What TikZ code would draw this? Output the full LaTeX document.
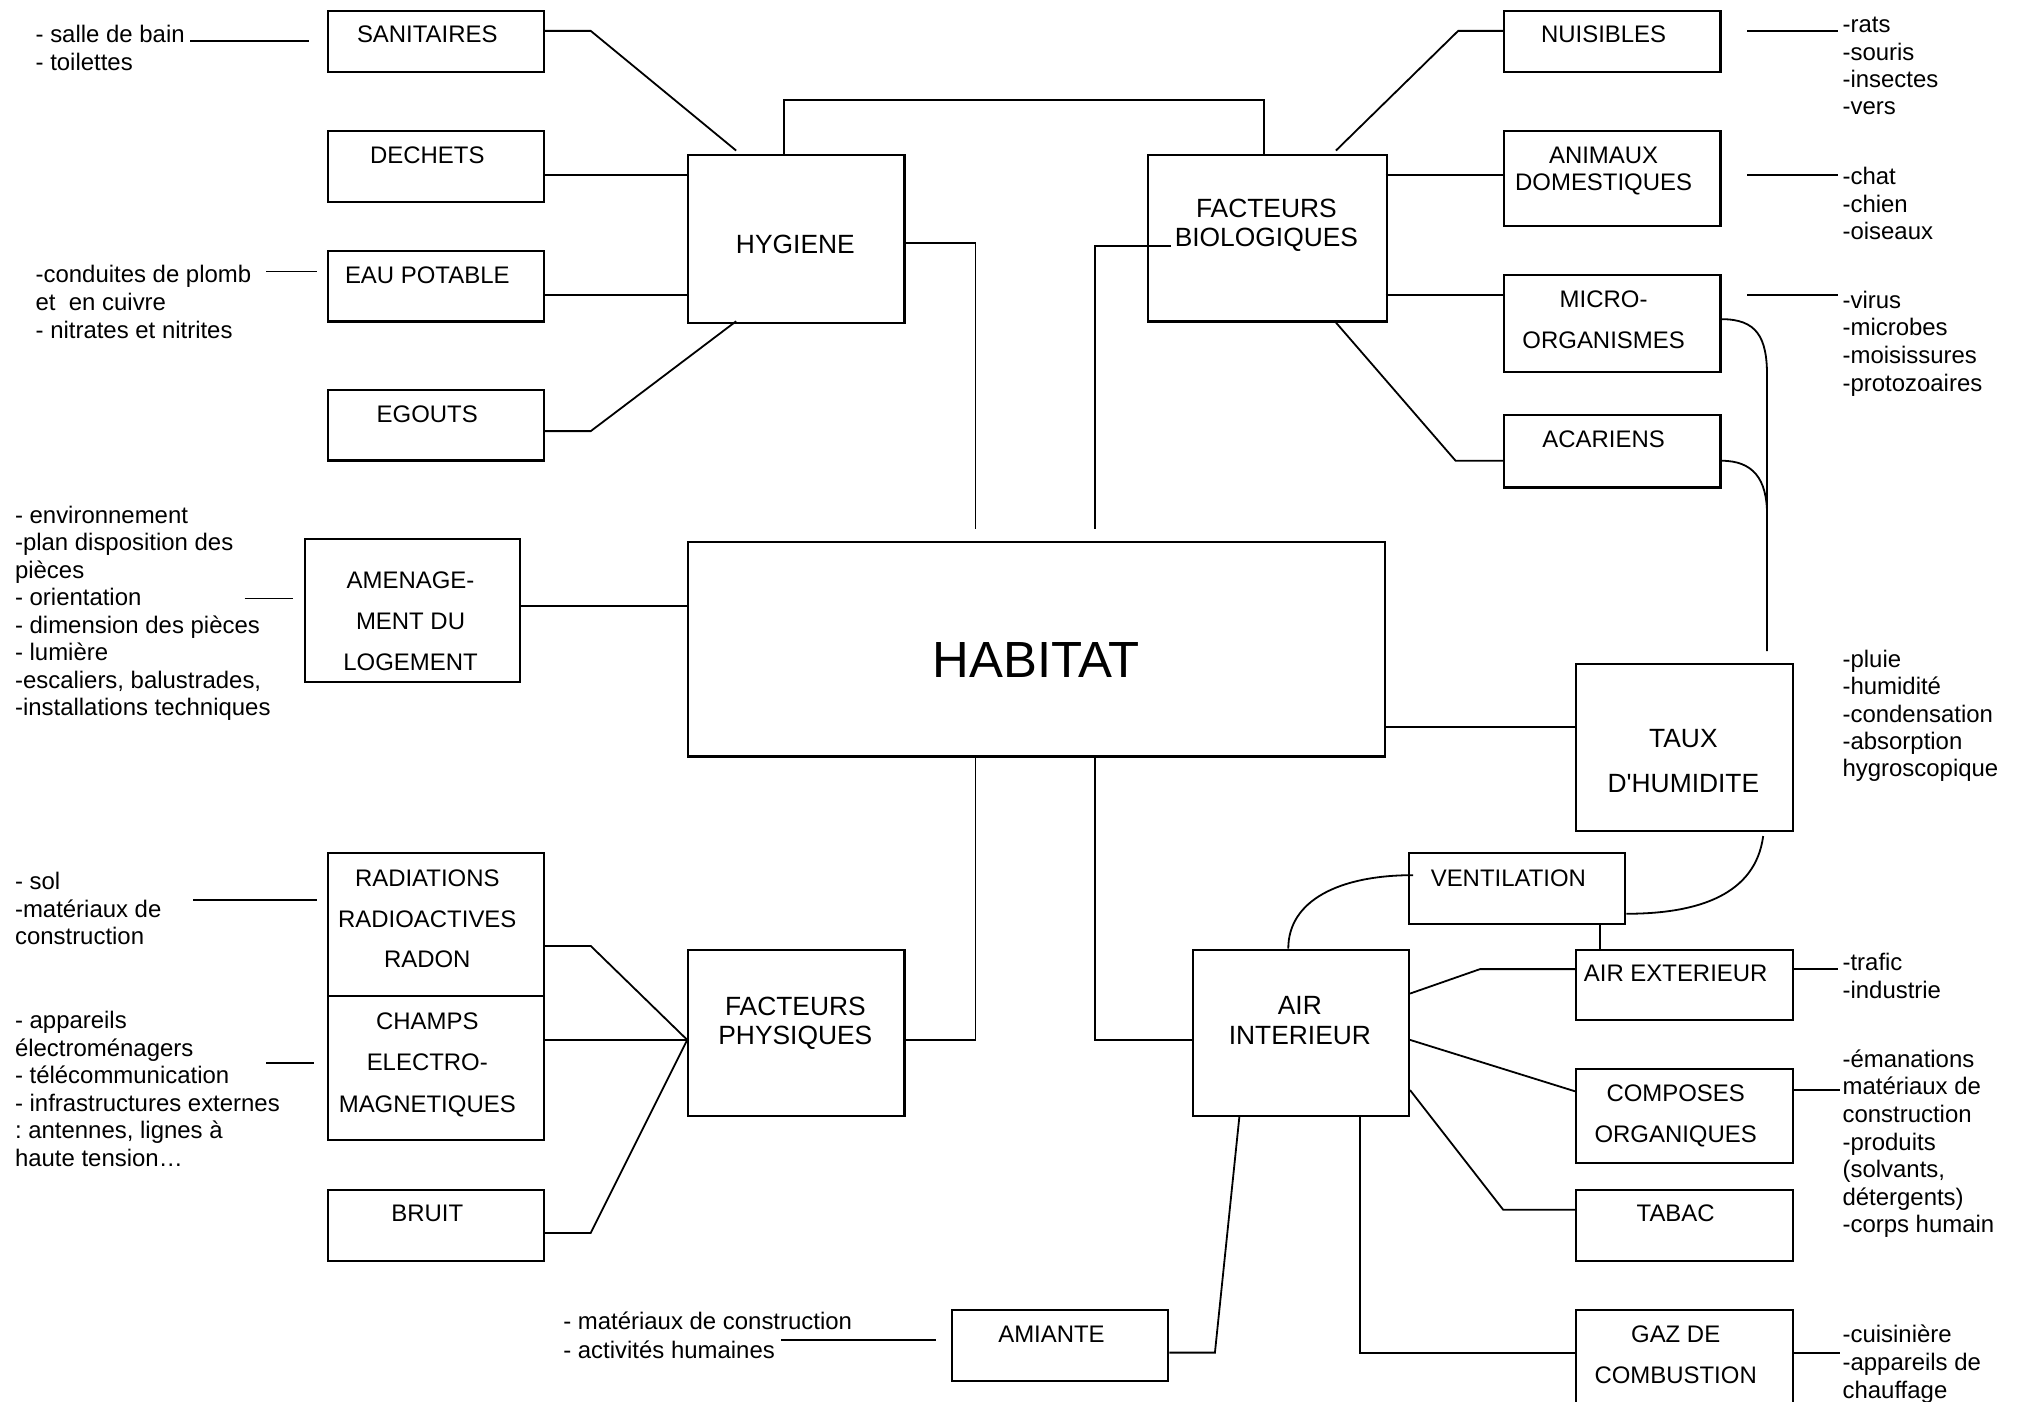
\documentclass[tikz,border=0pt]{standalone}
\usepackage{fontspec}
\setmainfont{Liberation Sans}
\newfontfamily\plainsans{Liberation Sans}
\usetikzlibrary{calc}
\frenchspacing
\newcommand\mybox[5]{\node[box,minimum width={#4-#2},minimum height={#5-#3}] (#1) at (#2,#3) {};}
\newcommand\mylbl[6]{\node[lab,font=\fontsize{#6}{#5}\selectfont] (#1) at (#2,#3-0.358*#6) {#4};}
\newcommand\myann[5]{\node[ann,font=\fontsize{18.6}{#4}\selectfont\frenchspacing] (#1) at (#2,#3-7.3) {\rule{0pt}{14pt}#5};}
\begin{document}
\begin{tikzpicture}[x=1pt,y=-1pt,line width=1.4pt,
  box/.style={draw,line width=1.6pt,inner sep=0pt,anchor=north west},
  lab/.style={inner sep=0pt,anchor=north,align=center},
  ann/.style={inner sep=0pt,anchor=north west,align=left}]
\useasboundingbox (0,0) rectangle (1568,1089);
% boxes
\mybox{san}{254}{8}{422}{55}
\mybox{dech}{254}{101}{422}{156}
\mybox{eau}{254}{194}{422}{249}
\mybox{ego}{254}{302}{422}{357}
\mybox{hyg}{534}{120}{702}{250}
\mybox{fb}{891}{120}{1077}{249}
\mybox{nuis}{1168}{8}{1336}{55}
\mybox{anim}{1168}{101}{1336}{175}
\mybox{micro}{1168}{213}{1336}{288}
\mybox{acar}{1168}{322}{1336}{378}
\mybox{amen}{236}{418}{403}{529}
\mybox{hab}{534}{420}{1075}{587}
\mybox{taux}{1224}{515}{1392}{645}
\mybox{vent}{1094}{662}{1262}{717}
\mybox{airext}{1224}{737}{1392}{792}
\mybox{airint}{926}{737}{1094}{866}
\mybox{comp}{1224}{830}{1392}{903}
\mybox{tabac}{1224}{924}{1392}{979}
\mybox{gaz}{1224}{1017}{1392}{1095}
\mybox{amiante}{739}{1017}{907}{1072}
\mybox{fp}{534}{737}{702}{866}
\mybox{rad}{254}{662}{422}{773}
\mybox{champs}{254}{773}{422}{885}
\mybox{bruit}{254}{924}{422}{979}
% labels
\mylbl{lsan}{332}{26}{SANITAIRES}{21}{18.6}
\mylbl{ldech}{332}{120}{DECHETS}{21}{18.6}
\mylbl{leau}{332}{213}{EAU POTABLE}{21}{18.6}
\mylbl{lego}{332}{321}{EGOUTS}{21}{18.6}
\mylbl{lhyg}{618}{189}{HYGIENE}{23}{20.5}
\mylbl{lfb}{984}{161}{FACTEURS\\BIOLOGIQUES}{23}{20.5}
\mylbl{lnuis}{1246}{26}{NUISIBLES}{21}{18.6}
\mylbl{lanim}{1246}{120}{ANIMAUX\\DOMESTIQUES}{21}{18.6}
\mylbl{lmicro}{1246}{232}{MICRO-\\ORGANISMES}{32}{18.6}
\mylbl{lacar}{1246}{341}{ACARIENS}{21}{18.6}
\mylbl{lamen}{319}{450}{AMENAGE-\\MENT DU\\LOGEMENT}{32}{18.6}
\node[inner sep=0pt,font=\fontsize{39.5}{42}\selectfont,text height=28.3pt,text depth=0pt] (lhab) at (hab.center |- 0,512) {HABITAT};
\mylbl{ltaux}{1308}{573}{TAUX\\{\plainsans D'HUMIDITE}}{35}{20.5}
\mylbl{lvent}{1172}{682}{VENTILATION}{21}{18.6}
\mylbl{lairext}{1302}{756}{AIR EXTERIEUR}{21}{18.6}
\mylbl{lairint}{1010}{781}{AIR\\INTERIEUR}{23}{20.5}
\mylbl{lcomp}{1302}{849}{COMPOSES\\ORGANIQUES}{32}{18.6}
\mylbl{ltabac}{1302}{942}{TABAC}{21}{18.6}
\mylbl{lgaz}{1302}{1036}{GAZ DE\\COMBUSTION}{32}{18.6}
\mylbl{lamiante}{817}{1036}{AMIANTE}{21}{18.6}
\mylbl{lfp}{618}{781}{FACTEURS\\PHYSIQUES}{23}{20.5}
\mylbl{lrad}{332}{682}{RADIATIONS\\RADIOACTIVES\\RADON}{31.5}{18.6}
\mylbl{lchamps}{332}{793}{CHAMPS\\ELECTRO-\\MAGNETIQUES}{32}{18.6}
\mylbl{lbruit}{332}{942}{BRUIT}{21}{18.6}
% annotations
\myann{asan}{27}{26}{21.3}{- salle de bain\\- toilettes}
\myann{aeau}{27}{212}{22}{-conduites de plomb\\et\ \ en cuivre\\- nitrates et nitrites}
\myann{aamen}{11}{399}{21.4}{- environnement\\-plan disposition des\\pièces\\- orientation\\- dimension des pièces\\- lumière\\-escaliers, balustrades,\\-installations techniques}
\myann{arad}{11}{684}{21.4}{- sol\\-matériaux de\\construction}
\myann{achamps}{11}{792}{21.4}{- appareils\\électroménagers\\- télécommunication\\- infrastructures externes\\: antennes, lignes à\\haute tension…}
\myann{aamiante}{437}{1026}{22}{- matériaux de construction\\- activités humaines}
\myann{anuis}{1431}{18}{21.3}{-rats\\-souris\\-insectes\\-vers}
\myann{aanim}{1431}{136}{21.5}{-chat\\-chien\\-oiseaux}
\myann{amicro}{1431}{232}{21.5}{-virus\\-microbes\\-moisissures\\-protozoaires}
\myann{ataux}{1431}{511}{21.3}{-pluie\\-humidité\\-condensation\\-absorption\\hygroscopique}
\myann{aairext}{1431}{747}{21.3}{-trafic\\-industrie}
\myann{acomp}{1431}{822}{21.4}{-émanations\\matériaux de\\construction\\-produits\\(solvants,\\détergents)\\-corps humain}
\myann{agaz}{1431}{1036}{21.5}{-cuisinière\\-appareils de\\chauffage}
% connectors: hygiene
\draw (san.east |- 0,24) -- (459,24) -- ($(hyg.north -| 572,0)+(0,-3)$);
\draw (dech.east |- 0,136) -- (hyg.west |- 0,136);
\draw (eau.east |- 0,229) -- (hyg.west |- 0,229);
\draw (ego.east |- 0,335) -- (459,335) -- ($(hyg.south -| 572,0)+(0,-2)$);
\draw (hyg.north -| 609,0) -- (609,78) -- (982,78) -- (fb.north -| 982,0);
\draw (hyg.east |- 0,189) -- (758,189) -- ($(hab.north -| 758,0)+(0,-9)$);
% connectors: facteurs biologiques
\draw ($(fb.west |- 0,191)+(19,0)$) -- (851,191) -- ($(hab.north -| 851,0)+(0,-9)$);
\draw ($(fb.north -| 1038,0)+(0,-3)$) -- (1133,24) -- (nuis.west |- 0,24);
\draw ($(fb.east |- 0,136)+(-2,0)$) -- (anim.west |- 0,136);
\draw ($(fb.east |- 0,229)+(-2,0)$) -- (micro.west |- 0,229);
\draw (fb.south -| 1038,0) -- (1131,358) -- (acar.west |- 0,358);
\draw (micro.east |- 0,248) .. controls (1365,248) and (1373,262) .. (1373,292) -- ($(taux.north -| 1373,0)+(0,-9)$);
\draw (acar.east |- 0,358) .. controls (1362,358) and (1373,372) .. (1373,400);
% connectors: habitat
\draw (amen.east |- 0,471) -- (hab.west |- 0,471);
\draw (hab.east |- 0,565) -- (taux.west |- 0,565);
\draw (hab.south -| 758,0) -- (758,808) -- (fp.east |- 0,808);
\draw (hab.south -| 851,0) -- (851,808) -- (airint.west |- 0,808);
% humidity / ventilation
\draw ($(taux.south -| 1370,0)+(0,3)$) .. controls (1364,695) and (1320,710) .. (vent.east |- 0,710);
\draw ($(vent.west |- 0,680)+(4,0)$) .. controls (1040,680) and (1001,700) .. (airint.north -| 1001,0);
\draw (vent.south -| 1243,0) -- (airext.north -| 1243,0);
% air interieur
\draw (airint.east |- 0,772) -- (1150,753) -- (airext.west |- 0,753);
\draw (airint.east |- 0,808) -- (comp.west |- 0,848);
\draw (airint.east |- 0,847) -- (1168,940) -- (tabac.west |- 0,940);
\draw (airint.south -| 963,0) -- (944,1051) -- (amiante.east |- 0,1051);
\draw (airint.south -| 1057,0) -- (1057,1051) -- (gaz.west |- 0,1051);
% facteurs physiques
\draw (rad.east |- 0,735) -- (459,735) -- (fp.west |- 0,808);
\draw (champs.east |- 0,808) -- (fp.west |- 0,808);
\draw (bruit.east |- 0,958) -- (459,958) -- (fp.west |- 0,808);
% annotation leaders
\draw (148,32) -- ($(san.west |- 0,32)+(-14,0)$);
\draw (207,211) -- ($(eau.west |- 0,211)+(-8,0)$);
\draw (190,465) -- ($(amen.west |- 0,465)+(-8,0)$);
\draw (150,699) -- ($(rad.west |- 0,699)+(-8,0)$);
\draw (207,826) -- ($(champs.west |- 0,826)+(-10,0)$);
\draw (607,1041) -- ($(amiante.west |- 0,1041)+(-12,0)$);
\draw ($(nuis.east |- 0,24)+(20,0)$) -- (1428,24);
\draw ($(anim.east |- 0,136)+(20,0)$) -- (1428,136);
\draw ($(micro.east |- 0,229)+(20,0)$) -- (1428,229);
\draw (airext.east |- 0,753) -- (1428,753);
\draw (comp.east |- 0,847) -- (1430,847);
\draw (gaz.east |- 0,1051) -- (1430,1051);
\end{tikzpicture}
\end{document}
